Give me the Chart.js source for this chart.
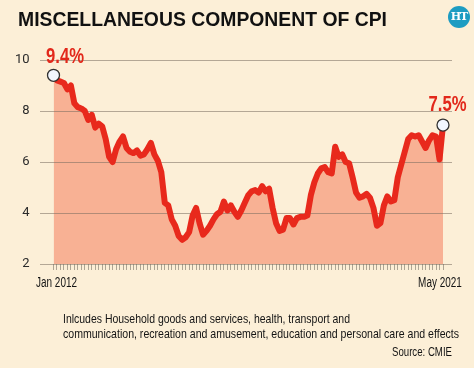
<!DOCTYPE html>
<html>
<head>
<meta charset="utf-8">
<script src="https://cdn.jsdelivr.net/npm/chart.js@4.4.1/dist/chart.umd.min.js"></script>
<style>
  html, body { margin: 0; padding: 0; }
  body { width: 474px; height: 368px; background: #fcefd7; position: relative; overflow: hidden; }
  #wrap { position: absolute; left: 0; top: 0; width: 474px; height: 368px; }
  .txt { position: absolute; white-space: nowrap; display: inline-block; }
  #title { left: 18px; top: 9px; font: bold 20px/20px "Liberation Sans", Arial, sans-serif; color: #111; transform-origin: 0 0; }
  #logo { position: absolute; left: 448px; top: 6px; width: 22px; height: 22px; border-radius: 50%; background: #1d9cc2; color: #fff; font: bold 11px/22px "DejaVu Serif", serif; text-align: center; letter-spacing: -1px; }
  .foot { font: 13px/13px "Liberation Sans", Arial, sans-serif; color: #141414; transform-origin: 0 0; }
  #f1 { left: 63px; top: 312px; }
  #f2 { left: 63px; top: 327px; }
  #src { left: 392px; top: 345px; }
</style>
</head>
<body>
<div id="wrap"><canvas id="c"></canvas></div>
<div id="title" class="txt">MISCELLANEOUS COMPONENT OF CPI</div>
<div id="logo">HT</div>
<div id="f1" class="txt foot">Inlcudes Household goods and services, health, transport and</div>
<div id="f2" class="txt foot">communication, recreation and amusement, education and personal care and effects</div>
<div id="src" class="txt foot">Source: CMIE</div>
<script>
// ---- data ----
const monthNames = ["Jan","Feb","Mar","Apr","May","Jun","Jul","Aug","Sep","Oct","Nov","Dec"];
const startYear = 2012;
const endYear = 2021;
const endMonth = 5; // May
const categories = [];
for (let y = startYear; y <= endYear; y++) {
  for (let m = 0; m < 12; m++) {
    if (y === endYear && m >= endMonth) break;
    categories.push(monthNames[m] + " " + y);
  }
}
const cpiMisc = [
  9.4, 9.2, 9.15, 9.1, 8.85, 9.0, 8.3, 8.15, 8.1, 8.0, 7.65, 7.85,
  7.35, 7.5, 7.4, 6.9, 6.2, 6.0, 6.5, 6.8, 7.0, 6.55, 6.4, 6.35,
  6.45, 6.25, 6.3, 6.5, 6.75, 6.3, 6.05, 5.6, 4.4, 4.3, 3.75, 3.5,
  3.1, 2.95, 3.05, 3.25, 3.9, 4.2, 3.6, 3.15, 3.3, 3.5, 3.75, 3.95,
  4.05, 4.45, 4.1, 4.3, 4.05, 3.85, 4.1, 4.4, 4.7, 4.85, 4.9, 4.8,
  5.05, 4.85, 4.95, 4.2, 3.6, 3.3, 3.35, 3.8, 3.8, 3.55, 3.8, 3.85,
  3.85, 3.9, 4.7, 5.2, 5.55, 5.75, 5.8, 5.6, 5.55, 6.6, 6.2, 6.3,
  6.0, 5.95, 5.4, 4.8, 4.6, 4.65, 4.75, 4.6, 4.2, 3.5, 3.6, 4.3,
  4.65, 4.45, 4.5, 5.4, 5.9, 6.4, 6.9, 7.05, 7.0, 7.05, 6.8, 6.55,
  6.85, 7.05, 7.0, 6.1, 7.45
];
const yTicks = [2, 4, 6, 8, 10];
const callouts = ["9.4%", "7.5%"];

// ---- fit html text widths ----
function fit(id, w) {
  const el = document.getElementById(id);
  const r = el.getBoundingClientRect().width;
  el.style.transform = "scaleX(" + (w / r) + ")";
}
fit("title", 369);
fit("f1", 287);
fit("f2", 396);
fit("src", 60);

const lastIdx = cpiMisc.length - 1;
const sans = '"Liberation Sans", Arial, sans-serif';

const gridPlugin = {
  id: "gridExt",
  beforeDatasetsDraw(chart) {
    const ctx = chart.ctx, ys = chart.scales.y;
    ctx.save();
    ctx.strokeStyle = "rgba(120,108,95,0.55)";
    ctx.lineWidth = 1;
    yTicks.forEach(v => {
      const py = Math.round(ys.getPixelForValue(v)) + 0.5;
      ctx.beginPath();
      ctx.moveTo(40, py);
      ctx.lineTo(452, py);
      ctx.stroke();
    });
    ctx.restore();
  },
  afterDatasetsDraw(chart) {
    const ctx = chart.ctx;
    const meta = chart.getDatasetMeta(0);
    const p0 = meta.data[0], p1 = meta.data[lastIdx];
    ctx.save();
    ctx.font = 'bold 22px ' + sans;
    ctx.fillStyle = "#e2281b";
    ctx.textAlign = "center";
    ctx.textBaseline = "alphabetic";
    const sx = 38 / ctx.measureText(callouts[0]).width;
    function draw(t, cx, by, s) {
      ctx.save();
      ctx.translate(cx, by);
      ctx.scale(s, 1);
      ctx.fillText(t, 0, 0);
      ctx.restore();
    }
    draw(callouts[0], p0.x + 11.5, p0.y - 12.5, sx);
    draw(callouts[1], p1.x + 4.5, p1.y - 14.5, sx);

    // x-axis end labels, condensed, placed at the scale's tick pixels
    const xs = chart.scales.x;
    ctx.font = '14px ' + sans;
    ctx.fillStyle = "#141414";
    const lx = 41 / ctx.measureText(categories[0]).width;
    const by = xs.top + 23;
    draw(categories[0], xs.getPixelForTick(0) + 3, by, lx);
    draw(categories[lastIdx], xs.getPixelForTick(lastIdx) - 3, by, lx);
    ctx.restore();
  }
};

new Chart(document.getElementById("c"), {
  type: "line",
  data: {
    labels: categories,
    datasets: [{
      data: cpiMisc,
      borderColor: "#e8291c",
      borderWidth: 6,
      borderJoinStyle: "round",
      borderCapStyle: "round",
      backgroundColor: "#f8b194",
      fill: "start",
      tension: 0,
      pointRadius: ctx => (ctx.dataIndex === 0 || ctx.dataIndex === lastIdx) ? 6 : 0,
      pointHoverRadius: 0,
      pointBackgroundColor: "#f3f7ff",
      pointBorderColor: "#333333",
      pointBorderWidth: 1.3
    }]
  },
  options: {
    responsive: true,
    maintainAspectRatio: false,
    animation: false,
    events: [],
    layout: { padding: { top: 60, right: 31, left: 0, bottom: 0 } },
    plugins: {
      legend: { display: false },
      tooltip: { enabled: false },
      filler: { drawTime: "beforeDatasetsDraw" }
    },
    scales: {
      x: {
        offset: false,
        border: { display: false },
        grid: { display: true, drawOnChartArea: false, drawTicks: true, tickLength: 6, color: "#aea493", lineWidth: 1 },
        ticks: { display: false, autoSkip: false, maxRotation: 0, minRotation: 0 },
        afterFit: s => { s.height = 104; }
      },
      y: {
        min: 2, max: 10,
        border: { display: false },
        grid: { display: false },
        ticks: {
          stepSize: 2, padding: 16, color: "#2a2a2a",
          font: { family: "Roboto, " + sans, size: 13 }
        },
        afterFit: s => { s.width = 53.5; }
      }
    }
  },
  plugins: [gridPlugin]
});
</script>
</body>
</html>
